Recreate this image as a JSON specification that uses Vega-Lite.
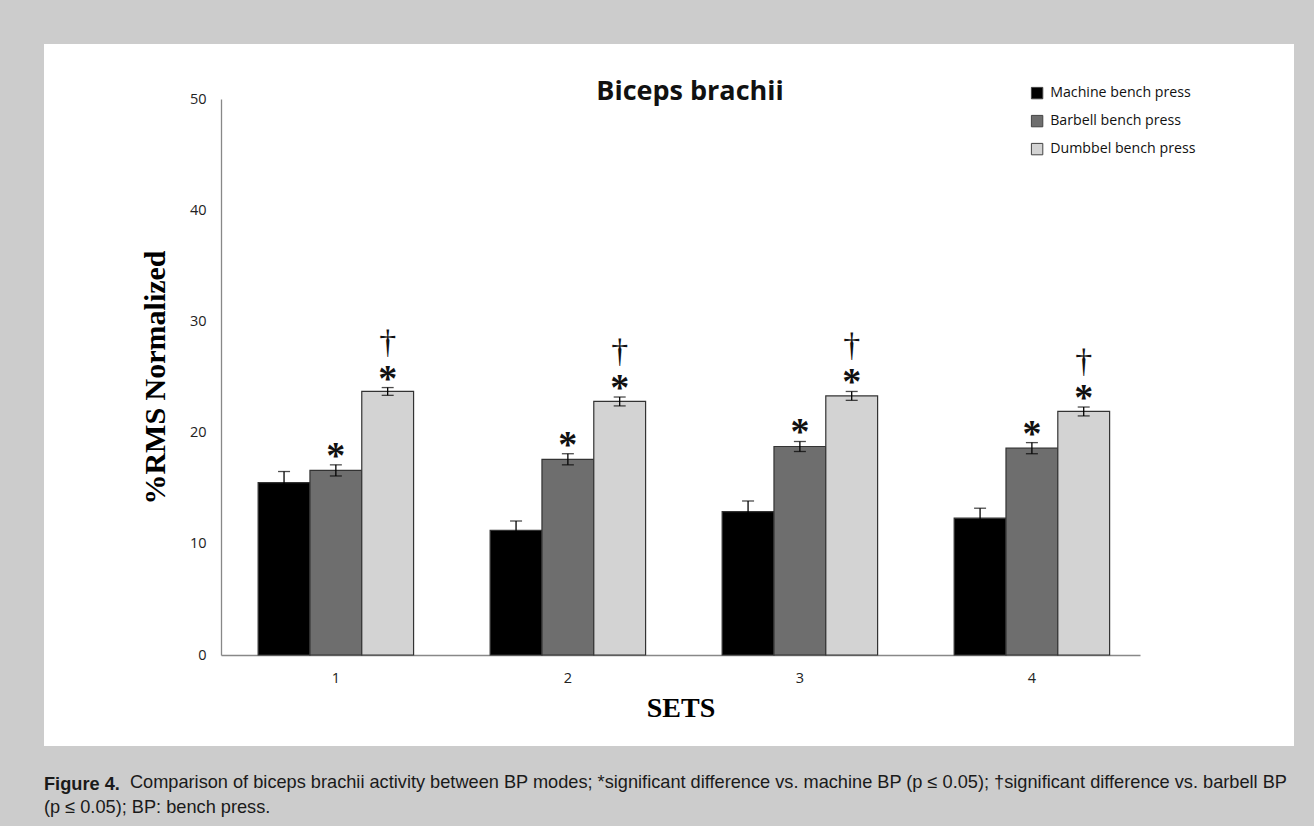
{
  "$schema": "https://vega.github.io/schema/vega-lite/v6.json",
  "background": "#cccccc",
  "padding": {"left": 44, "top": 44, "right": 20, "bottom": 14},
  "title": {
    "text": "Figure 4.",
    "subtitle": ["\u200b\u00a0\u00a0\u00a0\u00a0\u00a0\u00a0\u00a0\u00a0\u00a0\u00a0\u00a0\u00a0\u00a0\u00a0\u00a0\u00a0\u00a0Comparison of biceps brachii activity between BP modes; *significant difference vs. machine BP (p \u2264 0.05); \u2020significant difference vs. barbell BP", "(p \u2264 0.05); BP: bench press."],
    "orient": "bottom",
    "anchor": "start",
    "font": "Liberation Sans",
    "fontSize": 18.2,
    "fontWeight": "bold",
    "color": "#1a1a1a",
    "subtitleFont": "Liberation Sans",
    "subtitleFontSize": 18.2,
    "subtitleFontWeight": "normal",
    "subtitleColor": "#1a1a1a",
    "subtitleLineHeight": 25,
    "subtitlePadding": -20,
    "offset": 30
  },
  "datasets": {
    "bars": [
      {"set": "1", "mode": "Machine bench press", "mean": 15.5, "lo": 14.5, "hi": 16.5, "star": "", "dagger": ""},
      {"set": "1", "mode": "Barbell bench press", "mean": 16.6, "lo": 16.1, "hi": 17.1, "star": "*", "dagger": ""},
      {"set": "1", "mode": "Dumbbel bench press", "mean": 23.7, "lo": 23.35, "hi": 24.05, "star": "*", "dagger": "\u2020"},
      {"set": "2", "mode": "Machine bench press", "mean": 11.2, "lo": 10.35, "hi": 12.05, "star": "", "dagger": ""},
      {"set": "2", "mode": "Barbell bench press", "mean": 17.6, "lo": 17.1, "hi": 18.1, "star": "*", "dagger": ""},
      {"set": "2", "mode": "Dumbbel bench press", "mean": 22.8, "lo": 22.4, "hi": 23.2, "star": "*", "dagger": "\u2020"},
      {"set": "3", "mode": "Machine bench press", "mean": 12.9, "lo": 11.95, "hi": 13.85, "star": "", "dagger": ""},
      {"set": "3", "mode": "Barbell bench press", "mean": 18.75, "lo": 18.3, "hi": 19.2, "star": "*", "dagger": ""},
      {"set": "3", "mode": "Dumbbel bench press", "mean": 23.3, "lo": 22.9, "hi": 23.7, "star": "*", "dagger": "\u2020"},
      {"set": "4", "mode": "Machine bench press", "mean": 12.3, "lo": 11.4, "hi": 13.2, "star": "", "dagger": ""},
      {"set": "4", "mode": "Barbell bench press", "mean": 18.6, "lo": 18.1, "hi": 19.1, "star": "*", "dagger": ""},
      {"set": "4", "mode": "Dumbbel bench press", "mean": 21.9, "lo": 21.5, "hi": 22.3, "star": "*", "dagger": "\u2020"}
    ]
  },
  "vconcat": [
    {
      "width": 1250,
      "height": 702,
      "title": {
        "text": "Biceps brachii",
        "font": "Open Sans",
        "fontSize": 27,
        "fontWeight": "bold",
        "color": "#111111",
        "anchor": "middle",
        "dx": 21,
        "offset": -62
      },
      "data": {"name": "bars"},
      "encoding": {
        "x": {
          "field": "set",
          "type": "ordinal",
          "scale": {"range": [177, 1096], "paddingInner": 0.33, "paddingOuter": 0.1455, "align": 0.55},
          "axis": {
            "orient": "bottom",
            "offset": -91,
            "title": "SETS",
            "titleFont": "Liberation Serif",
            "titleFontSize": 28,
            "titleFontWeight": "bold",
            "titleColor": "#000000",
            "titlePadding": 10,
            "labelAngle": 0,
            "labelFont": "Open Sans",
            "labelFontSize": 14.5,
            "labelColor": "#222222",
            "labelPadding": 16,
            "ticks": false,
            "domainColor": "#888888",
            "domainWidth": 1.3
          }
        },
        "xOffset": {
          "field": "mode",
          "type": "nominal",
          "sort": ["Machine bench press", "Barbell bench press", "Dumbbel bench press"],
          "scale": {"paddingInner": 0, "paddingOuter": 0}
        }
      },
      "layer": [
        {
          "mark": {"type": "bar", "stroke": "#333333", "strokeWidth": 1.2},
          "encoding": {
            "y": {
              "field": "mean",
              "type": "quantitative",
              "scale": {"domain": [0, 50], "range": [611, 55], "nice": false, "zero": false},
              "axis": {
                "orient": "left",
                "offset": -177,
                "values": [0, 10, 20, 30, 40, 50],
                "grid": false,
                "ticks": false,
                "title": "%RMS Normalized",
                "titleFont": "Liberation Serif",
                "titleFontSize": 30,
                "titleFontWeight": "bold",
                "titleColor": "#000000",
                "titlePadding": 19,
                "labelFont": "Open Sans",
                "labelFontSize": 14.5,
                "labelColor": "#222222",
                "labelPadding": 15,
                "domainColor": "#888888",
                "domainWidth": 1.3
              }
            },
            "y2": {"datum": 0},
            "color": {
              "field": "mode",
              "type": "nominal",
              "scale": {
                "domain": ["Machine bench press", "Barbell bench press", "Dumbbel bench press"],
                "range": ["#000000", "#6e6e6e", "#d3d3d3"]
              },
              "legend": {
                "title": null,
                "orient": "none",
                "legendX": 986,
                "legendY": 42,
                "symbolType": "square",
                "symbolSize": 130,
                "symbolStrokeColor": "#444444",
                "symbolStrokeWidth": 1,
                "labelFont": "Open Sans",
                "labelFontSize": 14.2,
                "labelColor": "#111111",
                "labelOffset": 6,
                "rowPadding": 12
              }
            }
          }
        },
        {
          "mark": {"type": "rule", "color": "#000000", "strokeWidth": 1.3},
          "encoding": {
            "y": {"field": "lo", "type": "quantitative"},
            "y2": {"field": "hi"}
          }
        },
        {
          "mark": {"type": "tick", "color": "#000000", "size": 12, "thickness": 1.3},
          "encoding": {"y": {"field": "lo", "type": "quantitative"}}
        },
        {
          "mark": {"type": "tick", "color": "#000000", "size": 12, "thickness": 1.3},
          "encoding": {"y": {"field": "hi", "type": "quantitative"}}
        },
        {
          "mark": {"type": "text", "font": "Liberation Serif", "fontSize": 38, "fontWeight": "bold", "baseline": "alphabetic", "align": "center", "dy": 3, "color": "#111111"},
          "encoding": {
            "y": {"field": "hi", "type": "quantitative"},
            "text": {"field": "star"}
          }
        },
        {
          "mark": {"type": "text", "font": "Liberation Serif", "fontSize": 34, "fontWeight": "normal", "baseline": "alphabetic", "align": "center", "dy": -35, "color": "#111111"},
          "encoding": {
            "y": {"field": "hi", "type": "quantitative"},
            "text": {"field": "dagger"}
          }
        }
      ]
    }
  ],
  "config": {
    "view": {"fill": "white", "stroke": null},
    "legend": {"padding": 0}
  }
}
